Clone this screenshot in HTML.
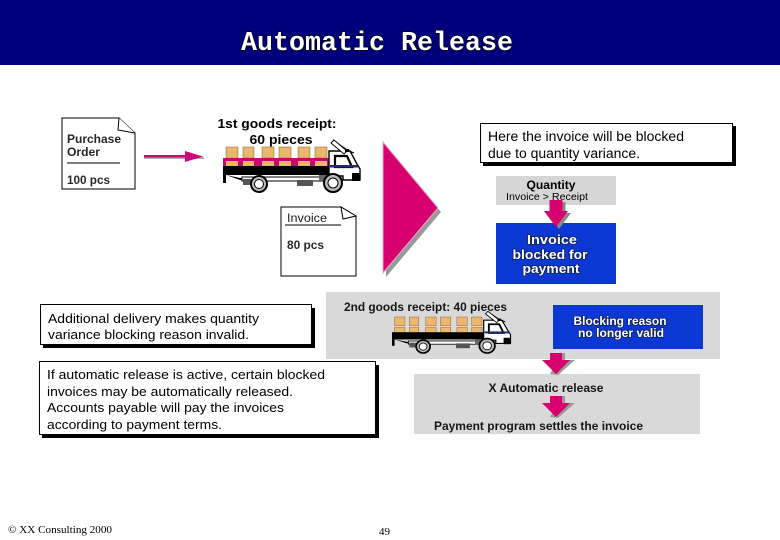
<!DOCTYPE html>
<html lang="en">
<head>
<meta charset="utf-8">
<title>Automatic Release</title>
<style>
html,body{margin:0;padding:0;background:#fff;width:780px;height:540px;overflow:hidden}
svg{display:block}
text{font-family:"Liberation Sans",sans-serif;fill:#000}
.b{font-weight:bold}
.w{fill:#fff;font-weight:bold;font-size:13px;text-anchor:middle;paint-order:stroke;stroke:#10205a;stroke-width:1.6px}
</style>
</head>
<body>
<svg width="780" height="540" viewBox="0 0 780 540" xmlns="http://www.w3.org/2000/svg">
<defs>
<g id="boxes" fill="#eeb56c" stroke="#7a5a30" stroke-width=".5">
<rect x="226" y="147" width="12" height="11"/><rect x="243" y="147" width="11" height="11"/>
<rect x="262" y="147" width="12" height="11"/><rect x="279" y="147" width="12" height="11"/>
<rect x="298" y="147" width="12" height="11"/><rect x="315" y="147" width="12" height="11"/>
<rect x="226" y="160" width="12" height="7"/><rect x="243" y="160" width="11" height="7"/>
<rect x="262" y="160" width="12" height="7"/><rect x="279" y="160" width="12" height="7"/>
<rect x="298" y="160" width="12" height="7"/><rect x="315" y="160" width="12" height="7"/>
</g>
<g id="chassis">
<rect x="223" y="166" width="106" height="9" fill="#000"/>
<path d="M223 175h3v8h-3z" fill="#000"/>
<path d="M226 175l14 5h8v-2h-8z" fill="#000"/>
<rect x="242" y="177" width="90" height="4" fill="#fff" stroke="#000" stroke-width="1"/>
<rect x="243" y="179" width="9" height="6" fill="#555"/>
<rect x="297" y="180" width="16" height="6" fill="#555"/>
<path d="M329 176V151h21l7 13 3 5v11h-17v-4z" fill="#fff" stroke="#000" stroke-width="1.400"/>
<path d="M335 156h12l5 11h-17z" fill="#fff" stroke="#000" stroke-width="2.200"/>
<rect x="330" y="165" width="29" height="2.500" fill="#202a70"/>
<path d="M333 140l14 10 7 3" fill="none" stroke="#000" stroke-width="1.200"/>
<path d="M331 143l13 11 3-3-13-11z" fill="#fff" stroke="#000" stroke-width="1"/>
<rect x="345" y="149" width="4" height="3" fill="#000"/>
<rect x="352" y="173" width="8" height="8" fill="#000"/>
<path d="M319 175h14v6h-14z" fill="#666"/>
<circle cx="259" cy="184" r="8" fill="#bbb" stroke="#000" stroke-width="2"/><circle cx="259" cy="184" r="4.500" fill="#fff" stroke="#000"/>
<circle cx="333" cy="183" r="9" fill="#bbb" stroke="#000" stroke-width="2"/><circle cx="333" cy="183" r="5" fill="#fff" stroke="#000"/>
</g>
<path id="fat" d="M-6.500 0h13v11h5.500l-12 16-12-16h5.500z"/>
<path id="wide" d="M-6 0h12v7h8l-14 14-14-14h8z"/>
<path id="wideshadow" d="M6 0h3v7h10l-17 15-8-1z"/>
</defs>

<!-- header -->
<rect width="780" height="65" fill="#00007c"/>
<text x="241" y="50" font-size="27" class="b" style="font-family:'Liberation Mono',monospace;fill:#fff;paint-order:stroke;stroke:#000;stroke-width:1.400px" textLength="272" lengthAdjust="spacingAndGlyphs">Automatic Release</text>

<!-- purchase order -->
<path d="M62 118h57l16 15v56H62z" fill="#fff" stroke="#000"/>
<path d="M119 118l-1 12 17 3" fill="#fff" stroke="#000"/>
<text x="67" y="143" font-size="11.500" class="b" fill-opacity=".85" textLength="54" lengthAdjust="spacingAndGlyphs">Purchase</text>
<text x="67" y="156" font-size="11.500" class="b" fill-opacity=".85" textLength="33" lengthAdjust="spacingAndGlyphs">Order</text>
<line x1="67" y1="163" x2="120" y2="163" stroke="#000"/>
<text x="67" y="184" font-size="11.500" class="b" fill-opacity=".85" textLength="43" lengthAdjust="spacingAndGlyphs">100 pcs</text>

<!-- arrow -->
<rect x="144" y="157" width="60" height="2" fill="#aaa"/>
<rect x="144" y="155" width="48" height="2.500" fill="#cc0a78"/>
<path d="M185 151l18 5.500-18 5.500z" fill="#cc0a78"/>

<!-- truck 1 -->
<text x="277" y="128" font-size="13" class="b" text-anchor="middle" textLength="119" lengthAdjust="spacingAndGlyphs">1st goods receipt:</text>
<text x="281" y="144" font-size="13" class="b" text-anchor="middle" textLength="63" lengthAdjust="spacingAndGlyphs">60 pieces</text>
<use href="#boxes"/>
<rect x="223" y="158" width="106" height="10" fill="#c8076f"/>
<g fill="#eeb56c"><rect x="226" y="161" width="12" height="6"/><rect x="243" y="161" width="11" height="6"/><rect x="262" y="161" width="12" height="6"/><rect x="279" y="161" width="12" height="6"/><rect x="298" y="161" width="12" height="6"/><rect x="315" y="161" width="12" height="6"/></g>
<use href="#chassis"/>

<!-- triangle -->
<path d="M386 146l55 66-55 65z" fill="#999"/>
<path d="M383 142l55 66-55 65z" fill="#d8006f" stroke="#e7a8cc" stroke-width="1"/>

<!-- callout 1 -->
<rect x="483" y="126" width="253" height="40" fill="#000"/>
<rect x="480.500" y="123.500" width="252" height="39" fill="#fff" stroke="#000"/>
<text x="488" y="141" font-size="13.500" textLength="196" lengthAdjust="spacingAndGlyphs">Here the invoice will be blocked</text>
<text x="488" y="158" font-size="13.500" textLength="152" lengthAdjust="spacingAndGlyphs">due to quantity variance.</text>

<!-- quantity -->
<rect x="496" y="176" width="120" height="29" fill="#d6d6d6"/>
<text x="551" y="189" font-size="12" class="b" text-anchor="middle" textLength="49" lengthAdjust="spacingAndGlyphs">Quantity</text>
<text x="547" y="200" font-size="10" text-anchor="middle" textLength="82" lengthAdjust="spacingAndGlyphs">Invoice &gt; Receipt</text>

<!-- blue 1 -->
<rect x="496" y="223" width="120" height="61" fill="#0b38d2"/>
<text x="552" y="244" class="w" textLength="50" lengthAdjust="spacingAndGlyphs">Invoice</text>
<text x="550" y="259" class="w" textLength="75" lengthAdjust="spacingAndGlyphs">blocked for</text>
<text x="551" y="273" class="w" textLength="57" lengthAdjust="spacingAndGlyphs">payment</text>
<use href="#fat" transform="translate(559 202)" fill="#888"/>
<use href="#fat" transform="translate(556 200)" fill="#d8006f"/>

<!-- invoice doc -->
<path d="M281 207h60l15 9v60h-75z" fill="#fff" stroke="#000"/>
<path d="M341 207l2 12 13-3z" fill="#fff" stroke="#000"/>
<text x="287" y="222" font-size="11.500" fill-opacity=".9" textLength="40" lengthAdjust="spacingAndGlyphs">Invoice</text>
<line x1="285" y1="225" x2="341" y2="225" stroke="#000"/>
<text x="287" y="249" font-size="11.500" class="b" fill-opacity=".85" textLength="37" lengthAdjust="spacingAndGlyphs">80 pcs</text>

<!-- second receipt panel -->
<rect x="326" y="292" width="394" height="67" fill="#d9d9d9"/>
<text x="344" y="311" font-size="12" class="b" fill-opacity=".9" textLength="163" lengthAdjust="spacingAndGlyphs">2nd goods receipt: 40 pieces</text>
<g transform="translate(392 317) scale(.865 .8) translate(-223 -147)">
<use href="#boxes"/><use href="#chassis"/>
</g>
<rect x="553" y="305" width="150" height="44" fill="#0b38d2"/>
<text x="620" y="325" class="w" style="font-size:12px" textLength="93" lengthAdjust="spacingAndGlyphs">Blocking reason</text>
<text x="621" y="337" class="w" style="font-size:12px" textLength="86" lengthAdjust="spacingAndGlyphs">no longer valid</text>

<!-- left callouts -->
<rect x="43" y="308" width="272" height="40" fill="#000"/>
<rect x="40.500" y="304.500" width="271" height="40" fill="#fff" stroke="#000"/>
<text x="48" y="323" font-size="12.800" textLength="211" lengthAdjust="spacingAndGlyphs">Additional delivery makes quantity</text>
<text x="48" y="339" font-size="12.800" textLength="201" lengthAdjust="spacingAndGlyphs">variance blocking reason invalid.</text>

<rect x="42" y="365" width="337" height="73" fill="#000"/>
<rect x="39.500" y="361.500" width="336" height="73" fill="#fff" stroke="#000"/>
<text x="47" y="379" font-size="12.800" textLength="278" lengthAdjust="spacingAndGlyphs">If automatic release is active, certain blocked</text>
<text x="47" y="396" font-size="12.800" textLength="246" lengthAdjust="spacingAndGlyphs">invoices may be automatically released.</text>
<text x="47" y="412" font-size="12.800" textLength="237" lengthAdjust="spacingAndGlyphs">Accounts payable will pay the invoices</text>
<text x="47" y="429" font-size="12.800" textLength="175" lengthAdjust="spacingAndGlyphs">according to payment terms.</text>

<!-- bottom panel -->
<rect x="414" y="374" width="286" height="60" fill="#d9d9d9"/>
<text x="546" y="392" font-size="11.500" class="b" fill-opacity=".9" text-anchor="middle" textLength="115" lengthAdjust="spacingAndGlyphs">X Automatic release</text>
<text x="434" y="430" font-size="11.500" class="b" fill-opacity=".9" textLength="209" lengthAdjust="spacingAndGlyphs">Payment program settles the invoice</text>
<use href="#wideshadow" transform="translate(556 353)" fill="#999"/>
<use href="#wide" transform="translate(556 353)" fill="#d8006f"/>
<use href="#wideshadow" transform="translate(556 396)" fill="#999"/>
<use href="#wide" transform="translate(556 396)" fill="#d8006f"/>

<!-- footer -->
<text x="8" y="533" font-size="11" style="font-family:'Liberation Serif',serif" textLength="104" lengthAdjust="spacingAndGlyphs">© XX Consulting 2000</text>
<text x="379" y="535" font-size="11" style="font-family:'Liberation Serif',serif" textLength="11" lengthAdjust="spacingAndGlyphs">49</text>
</svg>
</body>
</html>
